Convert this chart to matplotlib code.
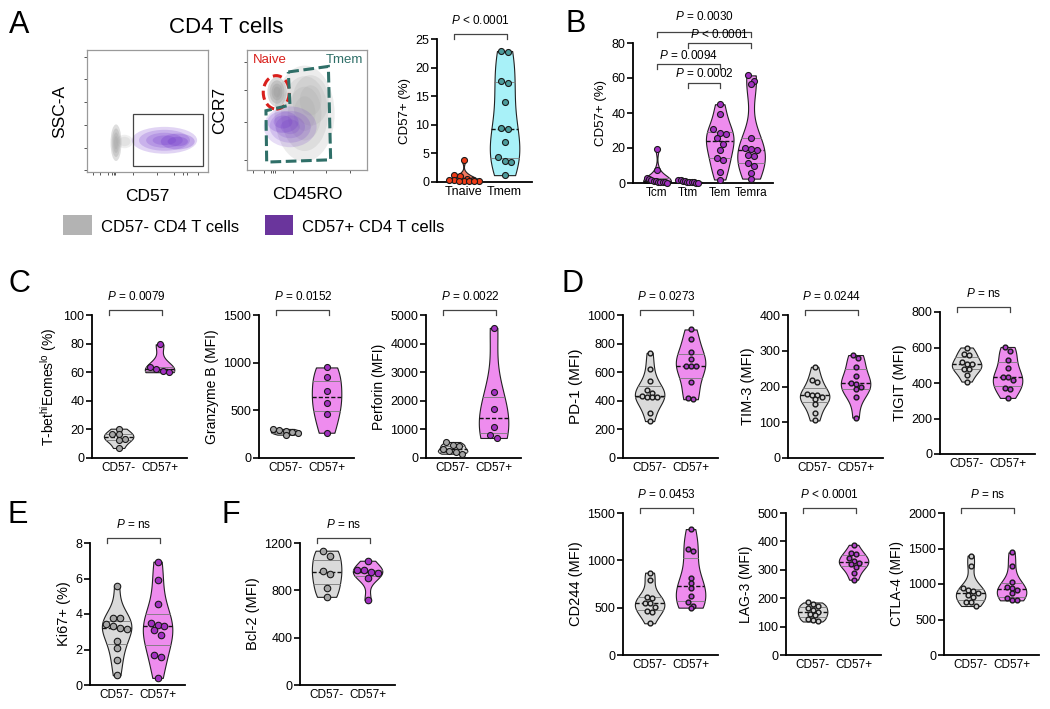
import numpy as np
import matplotlib
matplotlib.use("Agg")
import matplotlib.pyplot as plt
from matplotlib.patches import Ellipse, Rectangle, Polygon

W, H = 1050, 709

plt.rcParams['font.family'] = ['Liberation Sans', 'DejaVu Sans']
plt.rcParams['mathtext.fontset'] = 'custom'
plt.rcParams['mathtext.rm'] = 'Liberation Sans'
plt.rcParams['mathtext.it'] = 'Liberation Sans:italic'

# ---- data ----
tnaive = [3.8, 1.3, 1.1, 0.5, 0.4, 0.3, 0.3, 0.2, 0.2, 0.1, 0.1, 0.1]
tmem = [22.9, 22.7, 17.7, 17.3, 13.9, 9.5, 9.2, 7.0, 4.4, 3.7, 3.5, 1.2]

b_groups = ['Tcm', 'Ttm', 'Tem', 'Temra']
tcm = [19.5, 7.5, 3.0, 2.5, 1.8, 1.2, 1.0, 0.8, 0.6, 0.5, 0.3, 0.2]
ttm = [2.0, 1.6, 1.3, 1.0, 0.8, 0.6, 0.4, 0.3, 0.2, 0.1]
tem = [45, 39.5, 31, 28.5, 28, 25.5, 22.5, 19, 14.5, 13, 6.5, 2]
temra = [61.5, 58.5, 56.5, 26, 20, 19.5, 19, 16, 15.5, 11.5, 10, 6, 2.5]
b_pvals = ['0.0030', '< 0.0001', '0.0094', '0.0002']

tbet_neg = [20.5, 16.5, 16.5, 13, 12.5, 7]
tbet_pos = [79.5, 63.5, 62, 61, 60]
gzmb_neg = [305, 290, 280, 270, 260, 245]
gzmb_pos = [950, 850, 700, 580, 465, 265]
perf_neg = [560, 450, 420, 300, 250, 200, 150]
perf_pos = [4550, 2300, 1700, 1100, 800, 700]

pd1_neg = [735, 625, 535, 477, 453, 432, 430, 428, 425, 318, 258]
pd1_pos = [899, 833, 739, 695, 646, 641, 640, 531, 423, 411]
tim3_neg = [255, 218, 213, 178, 176, 175, 172, 165, 150, 125, 105]
tim3_pos = [288, 280, 255, 228, 210, 208, 200, 192, 172, 113]
tigit_neg = [600, 565, 558, 520, 505, 505, 480, 478, 445, 408]
tigit_pos = [603, 578, 528, 483, 435, 432, 415, 372, 368, 316]
cd244_neg = [870, 795, 615, 600, 550, 545, 510, 460, 455, 335]
cd244_pos = [1330, 1120, 1100, 810, 760, 705, 620, 555, 520, 500]
lag3_neg = [185, 180, 172, 165, 158, 150, 145, 140, 128, 122, 118]
lag3_pos = [388, 360, 355, 340, 330, 325, 320, 310, 290, 265]
ctla4_neg = [1400, 1250, 940, 920, 900, 880, 850, 820, 740, 740, 690]
ctla4_pos = [1445, 1255, 1035, 955, 940, 920, 880, 800, 775, 770]

ki67_neg = [5.55, 3.8, 3.75, 3.45, 3.35, 3.2, 3.15, 2.5, 2.1, 1.4, 0.55]
ki67_pos = [6.95, 5.9, 4.55, 3.5, 3.4, 3.3, 3.1, 2.8, 1.7, 1.6, 0.4]
bcl2_neg = [1135, 1090, 965, 940, 820, 745]
bcl2_pos = [1050, 975, 970, 955, 945, 905, 720]

grp_labels = ['CD57-', 'CD57+']

# colours
GRAY_FILL, GRAY_DOT = '#dadada', '#a6a6a6'
PINK_FILL, PURPLE_DOT = '#ee8cee', '#a330c2'
FLOW_GRAY, FLOW_PURPLE = '#a9a9a9', '#6a2cc8'

fig = plt.figure(figsize=(10.5, 7.09), dpi=100)


def px_axes(left, right, top, bottom):
    return fig.add_axes([left / W, 1 - bottom / H, (right - left) / W, (bottom - top) / H])


def style(ax, ylabel, fs=8.5, yfs=9.5):
    for s in ['top', 'right']:
        ax.spines[s].set_visible(False)
    for s in ['left', 'bottom']:
        ax.spines[s].set_linewidth(1.3)
    ax.tick_params(axis='y', length=4, width=1.2, labelsize=9, pad=1.5)
    ax.tick_params(axis='x', length=0, labelsize=fs, pad=3)
    ax.set_ylabel(ylabel, fontsize=yfs, labelpad=3)


def kde_half(vals, width, bw=0.9):
    v = np.asarray(vals, float)
    y = np.linspace(v.min(), v.max(), 200)
    h = bw * v.std(ddof=1) * len(v) ** (-0.2)
    d = np.exp(-0.5 * ((y[:, None] - v[None, :]) / h) ** 2).sum(axis=1)
    return y, d / d.max() * width / 2


def swarm(vals, pos, xpp, ypp, d, max_span=30):
    # GraphPad-like rows: points within about one dot in y sit side by side, centred
    v = np.asarray(vals, float)
    xs = np.full(len(v), float(pos))
    rows = []
    for i in np.argsort(v)[::-1]:
        if rows and (v[rows[-1][0]] - v[i]) * ypp < 0.95 * d:
            rows[-1].append(i)
        else:
            rows.append([i])
    for r in rows:
        n = len(r)
        step = min(d * 1.05, max_span / max(n - 1, 1))
        for k, i in enumerate(r):
            xs[i] = pos + (k - (n - 1) / 2) * step / xpp
    return xs


def group(ax, pos, vals, fill, face, xpp, ypp, dot, width=0.72, edge='#222222',
          dot_edge='#1a1a1a', dot_lw=0.8, max_span=30):
    y, half = kde_half(vals, width)
    ax.fill_betweenx(y, pos - half, pos + half, facecolor=fill, edgecolor=edge,
                     lw=0.8, zorder=1)
    q1, q2, q3 = np.percentile(vals, [25, 50, 75])
    for q, c, ls, lw in [(q1, '#7a7a7a', '-', 0.6), (q3, '#7a7a7a', '-', 0.6),
                         (q2, '#111111', (0, (3, 1.5)), 1.0)]:
        w = np.interp(q, y, half)
        ax.plot([pos - w, pos + w], [q, q], color=c, ls=ls, lw=lw, zorder=2)
    xs = swarm(vals, pos, xpp, ypp, dot, max_span)
    ax.scatter(xs, vals, s=(dot * 0.72) ** 2, c=face, edgecolors=dot_edge,
               linewidths=dot_lw, zorder=3, clip_on=False)


def bracket(ax, x1, x2, y, drop, text, ty, fs=8.5):
    ax.plot([x1, x1, x2, x2], [y - drop, y, y, y - drop], color='#444444', lw=0.9,
            clip_on=False)
    ax.text((x1 + x2) / 2, ty, text, ha='center', va='center', fontsize=fs,
            clip_on=False)


XL = (0.35, 2.67)
AXW = 95


def two_group(spine, top, bottom, ymax, step, ylabel, neg, pos, ptext, fills, faces,
              dot=6.0, xlabels=grp_labels, dot_lw=0.8, xfs=8.5, yfs=9.5):
    ax = px_axes(spine, spine + AXW, top, bottom)
    ax.set_xlim(*XL)
    ax.set_ylim(0, ymax)
    ypp = (bottom - top) / ymax
    xpp = AXW / (XL[1] - XL[0])
    for p, vals, f, c in zip([1, 2], [neg, pos], fills, faces):
        group(ax, p, vals, f, c, xpp, ypp, dot, dot_lw=dot_lw)
    ax.set_yticks(np.arange(0, ymax + step / 2, step))
    ax.set_xticks([1, 2])
    ax.set_xticklabels(xlabels)
    style(ax, ylabel, fs=xfs, yfs=yfs)
    yl = ymax + 5.5 / ypp
    bracket(ax, 0.77, 2.07, yl, 5 / ypp, ptext, yl + 13 / ypp)
    return ax


# ---- panel letters / titles ----
for letter, x, y in [('A', 9, 33), ('B', 565, 32), ('C', 9, 292), ('D', 561, 292),
                     ('E', 7, 523), ('F', 221, 523)]:
    fig.text(x / W, 1 - y / H, letter, fontsize=22, va='baseline', ha='left')
fig.text(226 / W, 1 - 33 / H, 'CD4 T cells', fontsize=16, ha='center', va='baseline')


# ---- flow plots ----
def flow_axes(left, right, top, bottom, xt, yt):
    ax = px_axes(left, right, top, bottom)
    ax.set_xlim(0, 1)
    ax.set_ylim(0, 1)
    for s in ax.spines.values():
        s.set_color('#9a9a9a')
        s.set_linewidth(0.9)
    ax.set_xticks(xt)
    ax.set_yticks(yt)
    ax.set_xticklabels([])
    ax.set_yticklabels([])
    ax.tick_params(length=2.5, width=0.7, color='#555555')
    return ax


def blob(ax, cx, cy, w, h, color, alpha=0.28, levels=(1.0, 0.78, 0.56, 0.36), angle=0):
    for f in levels:
        ax.add_patch(Ellipse((cx, cy), w * f, h * f, angle=angle, facecolor=color,
                             edgecolor='none', alpha=alpha, zorder=2))


ax1 = flow_axes(87, 208, 50, 172,
                [0.05, 0.11, 0.17, 0.21, 0.22, 0.23, 0.38, 0.58, 0.72, 0.79, 0.83, 0.92],
                [0.94, 0.76, 0.57, 0.385, 0.2, 0.016])
blob(ax1, 0.31, 0.25, 0.14, 0.11, FLOW_GRAY, alpha=0.18, levels=(1.0, 0.7))
blob(ax1, 0.24, 0.24, 0.09, 0.30, FLOW_GRAY, alpha=0.38)
blob(ax1, 0.64, 0.26, 0.54, 0.22, FLOW_PURPLE, alpha=0.2)
blob(ax1, 0.75, 0.25, 0.28, 0.13, FLOW_PURPLE, alpha=0.25, levels=(1.0, 0.6))
ax1.add_patch(Rectangle((0.38, 0.05), 0.58, 0.425, fill=False, ec='#444444', lw=0.9,
                        zorder=3))
ax1.set_ylabel('SSC-A', fontsize=12.5, labelpad=8)
ax1.set_xlabel('CD57', fontsize=12.5, labelpad=6)

ax2 = flow_axes(247, 367, 50, 170,
                [0.05, 0.14, 0.2, 0.22, 0.23, 0.38, 0.66, 0.86],
                [0.904, 0.666, 0.4, 0.085])
blob(ax2, 0.48, 0.47, 0.50, 0.80, FLOW_GRAY, alpha=0.22)
blob(ax2, 0.53, 0.58, 0.30, 0.42, FLOW_GRAY, alpha=0.22, levels=(1.0, 0.6))
blob(ax2, 0.25, 0.65, 0.16, 0.25, '#9c9c9c', alpha=0.38)
blob(ax2, 0.36, 0.36, 0.44, 0.34, FLOW_PURPLE, alpha=0.16)
blob(ax2, 0.30, 0.40, 0.26, 0.18, FLOW_PURPLE, alpha=0.2, levels=(1.0, 0.6))
ax2.add_patch(Ellipse((0.244, 0.647), 0.217, 0.279, fill=False, ec='#d9201c', lw=2.2,
                      ls=(0, (3, 1.5)), zorder=4))
ax2.add_patch(Polygon([(0.344, 0.817), (0.678, 0.863), (0.697, 0.085), (0.164, 0.066),
                       (0.158, 0.494), (0.358, 0.541)], closed=True, fill=False,
                      ec='#2f6f68', lw=2.2, ls=(0, (3.5, 1.5)), zorder=4))
ax2.text(0.19, 0.914, 'Naive', color='#d9201c', fontsize=9.5, ha='center', va='center')
ax2.text(0.81, 0.914, 'Tmem', color='#2f6f68', fontsize=9.5, ha='center', va='center')
ax2.set_ylabel('CCR7', fontsize=12.5, labelpad=8)
ax2.set_xlabel('CD45RO', fontsize=12.5, labelpad=6)

# legend
for (x0, x1), col, txt in [((63, 92), '#b3b3b3', 'CD57- CD4 T cells'),
                           ((265, 293), '#6a359c', 'CD57+ CD4 T cells')]:
    fig.add_artist(Rectangle((x0 / W, 1 - 235 / H), (x1 - x0) / W, 20 / H,
                             transform=fig.transFigure, facecolor=col, edgecolor='none'))
    fig.text((x1 + 9) / W, 1 - 232 / H, txt, fontsize=12, va='baseline')

# ---- A violin ----
two_group(437, 39, 182, 25, 5, 'CD57+ (%)', tnaive, tmem, '$P$ < 0.0001',
          ['#f07b62', '#a8f1f8'], ['#ee3b16', '#4c9c9c'], dot=6.0,
          xlabels=['Tnaive', 'Tmem'], xfs=9)

# ---- B ----
axb = px_axes(633, 773, 43, 183)
bxl = (0.233, 4.70)
axb.set_xlim(*bxl)
axb.set_ylim(0, 80)
b_ypp = 140 / 80
b_xpp = 140 / (bxl[1] - bxl[0])
for p, vals in enumerate([tcm, ttm, tem, temra], start=1):
    group(axb, p, vals, PINK_FILL, PURPLE_DOT, b_xpp, b_ypp, 6.0, width=0.88,
          max_span=20)
axb.set_yticks(np.arange(0, 81, 20))
axb.set_xticks([1, 2, 3, 4])
axb.set_xticklabels(b_groups)
style(axb, 'CD57+ (%)')
b_pairs = [(1, 4), (2, 4), (1, 3), (2, 3)]
b_lines = [86.3, 80.0, 68.0, 57.1]
b_texts = [95.4, 85.1, 73.1, 62.3]
for (i, j), yl, ty, pv in zip(b_pairs, b_lines, b_texts, b_pvals):
    sign = '' if pv.startswith('<') else '= '
    bracket(axb, i, j, yl, 5 / b_ypp, '$P$ ' + sign + pv, ty)

# ---- C ----
cf, cc = [GRAY_FILL, PINK_FILL], [GRAY_DOT, PURPLE_DOT]
two_group(92, 315, 458, 100, 20, 'T-bet$^{\\mathrm{hi}}$Eomes$^{\\mathrm{lo}}$ (%)',
          tbet_neg, tbet_pos, '$P$ = 0.0079', cf, cc, yfs=10)
two_group(259, 315, 458, 1500, 500, 'Granzyme B (MFI)', gzmb_neg, gzmb_pos,
          '$P$ = 0.0152', cf, cc, yfs=10)
two_group(426, 315, 458, 5000, 1000, 'Perforin (MFI)', perf_neg, perf_pos,
          '$P$ = 0.0022', cf, cc, yfs=10)

# ---- D ----
dc = ['#d0d0d0', '#b040c8']
two_group(623, 315, 458, 1000, 200, 'PD-1 (MFI)', pd1_neg, pd1_pos, '$P$ = 0.0273',
          cf, dc, dot=4.8, dot_lw=1.0, yfs=11)
two_group(788, 315, 458, 400, 100, 'TIM-3 (MFI)', tim3_neg, tim3_pos, '$P$ = 0.0244',
          cf, dc, dot=4.8, dot_lw=1.0, yfs=10.5)
two_group(940, 312, 454, 800, 200, 'TIGIT (MFI)', tigit_neg, tigit_pos, '$P$ = ns',
          cf, dc, dot=4.8, dot_lw=1.0, yfs=10.5)
two_group(623, 513, 655, 1500, 500, 'CD244 (MFI)', cd244_neg, cd244_pos,
          '$P$ = 0.0453', cf, dc, dot=4.8, dot_lw=1.0, yfs=10.5)
two_group(786, 513, 655, 500, 100, 'LAG-3 (MFI)', lag3_neg, lag3_pos, '$P$ < 0.0001',
          cf, dc, dot=4.8, dot_lw=1.0, yfs=10)
two_group(944, 513, 655, 2000, 500, 'CTLA-4 (MFI)', ctla4_neg, ctla4_pos, '$P$ = ns',
          cf, dc, dot=4.8, dot_lw=1.0, yfs=10)

# ---- E, F ----
two_group(90, 543, 685, 8, 2, 'Ki67+ (%)', ki67_neg, ki67_pos, '$P$ = ns', cf, cc,
          dot=6.5, yfs=10.5)
two_group(300, 543, 685, 1200, 400, 'Bcl-2 (MFI)', bcl2_neg, bcl2_pos, '$P$ = ns',
          cf, cc, dot=6.5, yfs=10.5)

fig.savefig('out.png', dpi=100)
